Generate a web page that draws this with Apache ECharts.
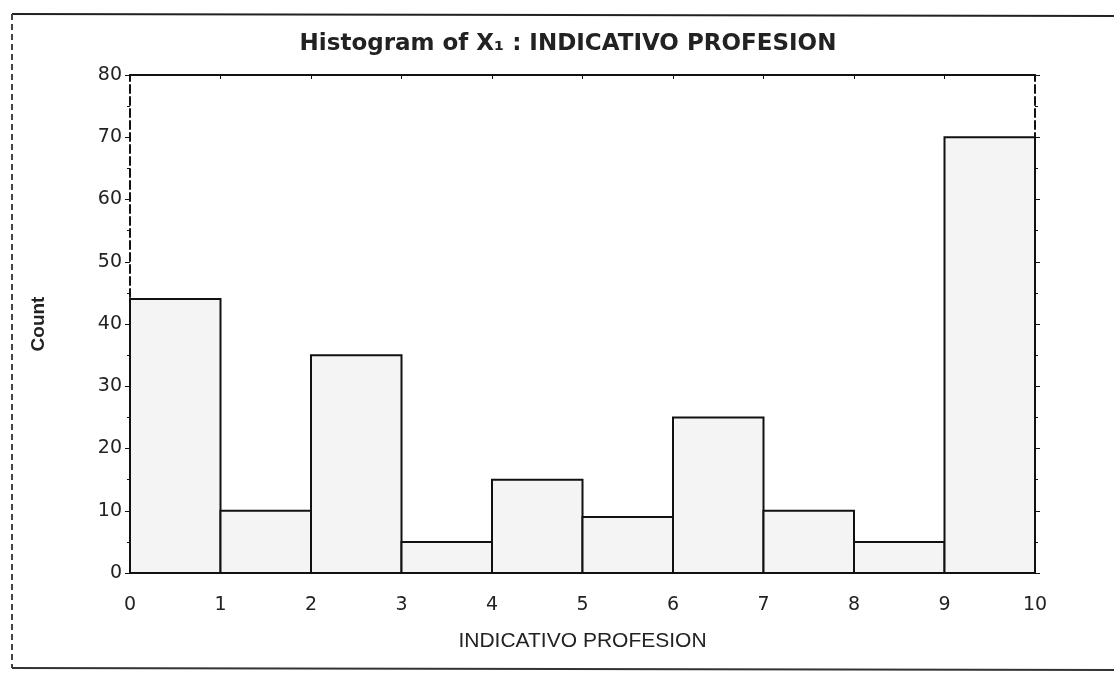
<!DOCTYPE html>
<html>
<head>
<meta charset="utf-8">
<script src="https://cdn.jsdelivr.net/npm/echarts@6/dist/echarts.min.js"></script>
<style>html,body{margin:0;padding:0;background:#fff;}#c{width:1114px;height:673px;}</style>
</head>
<body>
<div id="c"></div>
<script>
// Data
var binStarts = [0, 1, 2, 3, 4, 5, 6, 7, 8, 9];
var binEnds   = [1, 2, 3, 4, 5, 6, 7, 8, 9, 10];
var counts    = [44, 10, 35, 5, 15, 9, 25, 10, 5, 70];
var titleText = 'Histogram of X\u2081 : INDICATIVO PROFESION';
var xName = 'INDICATIVO PROFESION';
var yName = 'Count';

var data = binStarts.map(function (s, i) { return [s, binEnds[i], counts[i]]; });

var chart = echarts.init(document.getElementById('c'), null, { renderer: 'canvas' });
var font = 'Liberation Sans, Arial, sans-serif';
var wide = 'DejaVu Sans, sans-serif';
chart.setOption({
  backgroundColor: '#fff',
  animation: false,
  title: {
    text: titleText, left: 563, top: 28, textAlign: 'center',
    textStyle: { fontFamily: wide, fontSize: 23, fontWeight: 'bold', color: '#222' }
  },
  grid: { left: 130, right: 79, top: 75, bottom: 100 },
  xAxis: [{
    type: 'value', min: 0, max: 10, interval: 1,
    name: xName, nameLocation: 'middle', nameGap: 58,
    nameTextStyle: { fontFamily: font, fontSize: 21, color: '#222' },
    axisLine: { show: true, onZero: false, lineStyle: { color: '#111', width: 2 } },
    axisTick: { show: true, inside: true, length: 5, lineStyle: { color: '#111' } },
    minorTick: { show: true, splitNumber: 2, length: 3, lineStyle: { color: '#111' } },
    axisLabel: { fontFamily: wide, fontSize: 19, color: '#222', margin: 23 },
    splitLine: { show: false }
  }, {
    type: 'value', min: 0, max: 10, interval: 1, position: 'top',
    axisLine: { show: true, onZero: false, lineStyle: { color: '#111', width: 2 } },
    axisTick: { show: true, inside: true, length: 4, lineStyle: { color: '#111' } },
    axisLabel: { show: false }, splitLine: { show: false }
  }],
  yAxis: [{
    type: 'value', min: 0, max: 80, interval: 10,
    name: yName, nameLocation: 'middle', nameGap: 82, nameRotate: 90,
    nameTextStyle: { fontFamily: font, fontSize: 19, fontWeight: 'bold', color: '#222' },
    axisLine: { show: true, onZero: false, lineStyle: { color: '#111', width: 2, type: 'dashed' } },
    axisTick: { show: true, length: 5, lineStyle: { color: '#111' } },
    minorTick: { show: true, splitNumber: 2, length: 3, lineStyle: { color: '#111' } },
    axisLabel: { fontFamily: wide, fontSize: 19, color: '#222', margin: 8 },
    splitLine: { show: false }
  }, {
    type: 'value', min: 0, max: 80, interval: 10, position: 'right',
    axisLine: { show: true, onZero: false, lineStyle: { color: '#111', width: 2, type: 'dashed' } },
    axisTick: { show: true, length: 5, lineStyle: { color: '#111' } },
    minorTick: { show: true, splitNumber: 2, length: 3, lineStyle: { color: '#111' } },
    axisLabel: { show: false }, splitLine: { show: false }
  }],
  graphic: [
    { type: 'line', shape: { x1: 12, y1: 14, x2: 1114, y2: 16 }, style: { stroke: '#222', lineWidth: 2 } },
    { type: 'line', shape: { x1: 12, y1: 14, x2: 12, y2: 668 }, style: { stroke: '#444', lineWidth: 2, lineDash: [6, 4] } },
    { type: 'line', shape: { x1: 12, y1: 668, x2: 1114, y2: 670 }, style: { stroke: '#333', lineWidth: 2 } }
  ],
  series: [{
    type: 'custom',
    xAxisIndex: 0, yAxisIndex: 0,
    data: data,
    encode: { x: [0, 1], y: 2 },
    renderItem: function (params, api) {
      var p0 = api.coord([api.value(0), api.value(2)]);
      var p1 = api.coord([api.value(1), 0]);
      return {
        type: 'rect',
        shape: { x: p0[0], y: p0[1], width: p1[0] - p0[0], height: p1[1] - p0[1] },
        style: { fill: '#f4f4f4', stroke: '#111', lineWidth: 2 }
      };
    }
  }]
});
</script>
</body>
</html>
